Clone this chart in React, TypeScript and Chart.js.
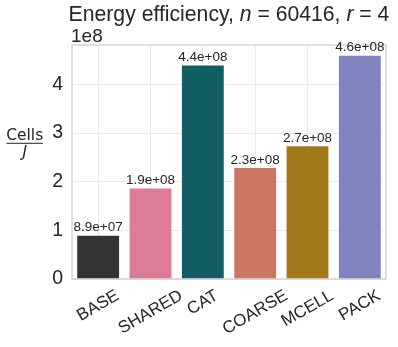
import React, { useEffect, useRef } from 'react';
import { Chart, registerables } from 'chart.js';

Chart.register(...registerables);

const categories = ['BASE', 'SHARED', 'CAT', 'COARSE', 'MCELL', 'PACK'];
const values = [8.9e7, 1.86e8, 4.39e8, 2.28e8, 2.73e8, 4.59e8];
const barColors = ['#333333', '#dd7c97', '#115f64', '#cc7761', '#a27a1b', '#7f83c0'];
const yTickValues = [0, 1e8, 2e8, 3e8, 4e8];
const yMax = 4.81e8;
const titleParts = [
  { t: 'Energy efficiency, ', i: false },
  { t: 'n', i: true },
  { t: ' = 60416, ', i: false },
  { t: 'r', i: true },
  { t: ' = 4', i: false },
];

const TXT = '#262626';
const SANS = '"Liberation Sans", Arial, sans-serif';

function fmt(v: number): string {
  const [m, e] = v.toExponential(1).split('e');
  const sign = e[0];
  const digits = e.slice(1).padStart(2, '0');
  return m + 'e' + sign + digits;
}

const overlay = {
  id: 'overlay',
  afterDatasetsDraw(chart: any) {
    const { ctx, chartArea: a } = chart;
    ctx.save();
    // spines
    ctx.strokeStyle = '#cccccc';
    ctx.lineWidth = 1.25;
    ctx.strokeRect(a.left, a.top, a.right - a.left, a.bottom - a.top);

    // bar value labels
    const meta = chart.getDatasetMeta(0);
    ctx.fillStyle = TXT;
    ctx.font = `13.5px ${SANS}`;
    ctx.textAlign = 'center';
    ctx.textBaseline = 'alphabetic';
    meta.data.forEach((el: any, i: number) => {
      ctx.fillText(fmt(values[i]), el.x, el.y - 4.5);
    });

    // x labels rotated 30deg, centered
    const xs = chart.scales.x;
    const fs = 17;
    ctx.font = `${fs}px ${SANS}`;
    const ang = (30 * Math.PI) / 180;
    categories.forEach((c, i) => {
      const x = xs.getPixelForValue(i);
      const w = ctx.measureText(c).width;
      const h = fs * 1.15;
      const boxH = w * Math.sin(ang) + h * Math.cos(ang);
      const cy = a.bottom + 7 + boxH / 2;
      ctx.save();
      ctx.translate(x, cy);
      ctx.rotate(-ang);
      ctx.textAlign = 'center';
      ctx.textBaseline = 'middle';
      ctx.fillText(c, 0, 0);
      ctx.restore();
    });

    // title
    const tfs = 21.2;
    const fontFor = (it: boolean) => `${it ? 'italic ' : ''}${tfs}px ${SANS}`;
    let total = 0;
    titleParts.forEach((p) => {
      ctx.font = fontFor(p.i);
      total += ctx.measureText(p.t).width;
    });
    let tx = (a.left + a.right) / 2 - total / 2;
    ctx.textAlign = 'left';
    ctx.textBaseline = 'alphabetic';
    titleParts.forEach((p) => {
      ctx.font = fontFor(p.i);
      ctx.fillText(p.t, tx, 21);
      tx += ctx.measureText(p.t).width;
    });

    // offset text
    ctx.font = `19px ${SANS}`;
    ctx.fillText('1e8', a.left - 1, 41.7);

    // y label fraction
    const cx = 24.7;
    ctx.textAlign = 'center';
    ctx.font = '15.5px "DejaVu Sans"';
    ctx.fillText('Cells', cx, 140);
    ctx.fillRect(6.5, 142.8, 36.5, 1);
    ctx.font = 'italic 15.5px "DejaVu Sans"';
    ctx.fillText('J', cx, 157);

    ctx.restore();
  },
};

export default function App() {
  const ref = useRef<HTMLCanvasElement>(null);
  useEffect(() => {
    if (!ref.current) return;
    const chart = new Chart(ref.current, {
      type: 'bar',
      data: {
        labels: categories,
        datasets: [
          {
            data: values,
            backgroundColor: barColors,
            borderWidth: 0,
            barPercentage: 0.8,
            categoryPercentage: 1,
          },
        ],
      },
      options: {
        responsive: false,
        animation: false,
        devicePixelRatio: 1,
        layout: { padding: { left: 0, right: 12, top: 45, bottom: 68 } },
        plugins: { legend: { display: false }, tooltip: { enabled: false }, title: { display: false } },
        scales: {
          x: {
            offset: true,
            grid: { display: true, offset: false, color: '#ebebeb', lineWidth: 1, drawTicks: false },
            border: { display: false },
            ticks: { display: false },
            afterFit: (s: any) => {
              s.height = 0;
            },
          },
          y: {
            min: 0,
            max: yMax,
            grid: { color: '#ebebeb', lineWidth: 1, drawTicks: false },
            border: { display: false },
            ticks: {
              padding: 9,
              color: TXT,
              font: { family: SANS, size: 19.5 },
              callback: (v: any) => String(Math.round(Number(v) / 1e8)),
            },
            afterBuildTicks: (s: any) => {
              s.ticks = yTickValues.map((v) => ({ value: v }));
            },
            afterFit: (s: any) => {
              s.width = 72;
            },
          },
        },
      },
      plugins: [overlay],
    });
    return () => chart.destroy();
  }, []);
  return (
    <div style={{ position: 'fixed', left: 0, top: 0, width: 398, height: 347, background: '#fff' }}>
      <canvas ref={ref} width={398} height={347} />
    </div>
  );
}
